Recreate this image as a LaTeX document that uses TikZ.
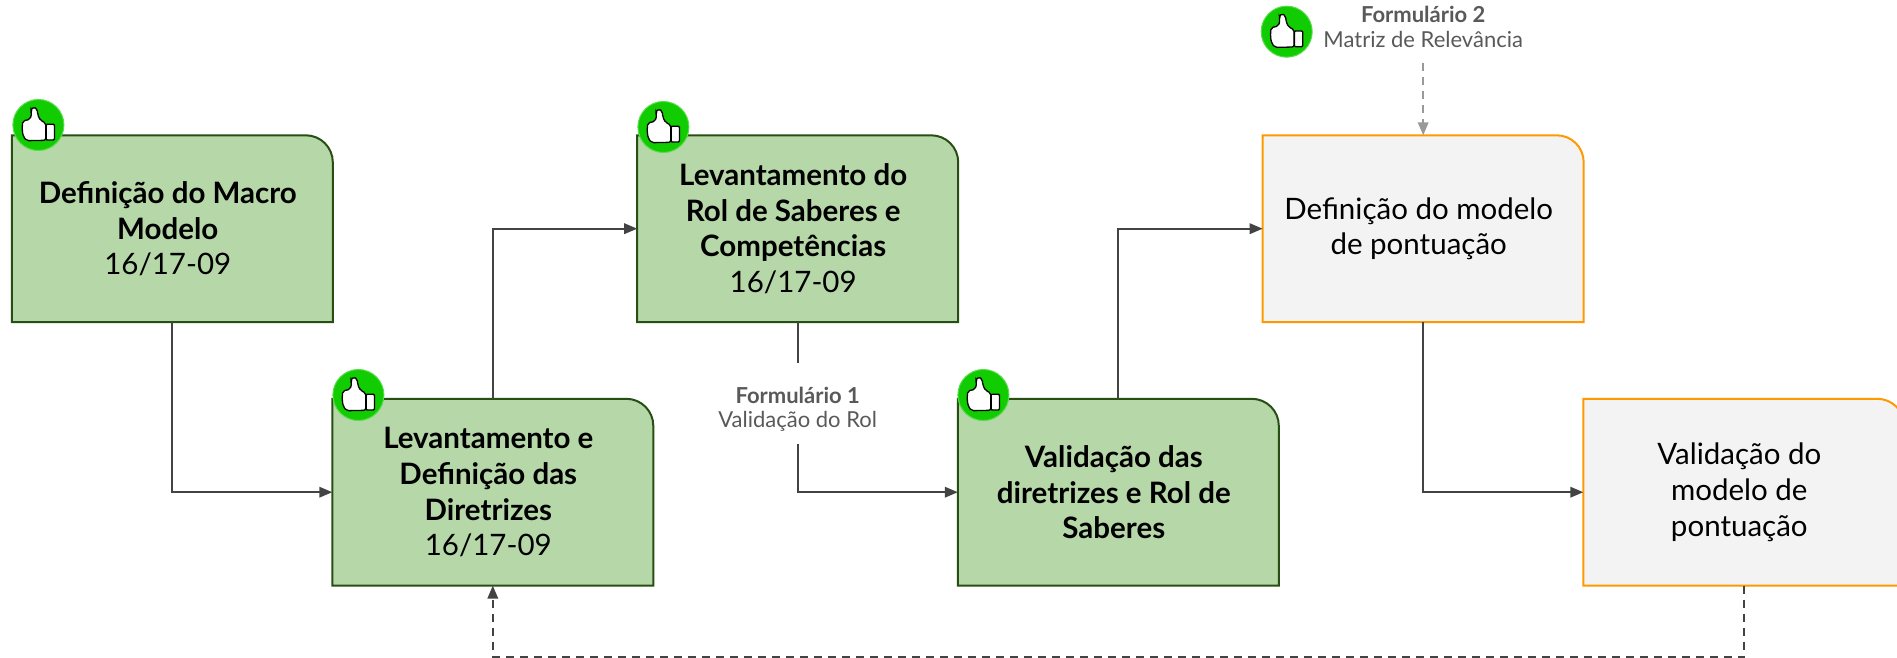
\documentclass[tikz,border=0pt]{standalone}
\usepackage{fontspec}
\setmainfont{Lato}
\usetikzlibrary{arrows.meta,backgrounds}
\definecolor{gfill}{HTML}{B6D7A8}
\definecolor{gline}{HTML}{274E13}
\definecolor{ofill}{HTML}{F3F3F3}
\definecolor{oline}{HTML}{FF9900}
\definecolor{conn}{HTML}{434343}
\definecolor{lab}{HTML}{595959}
\definecolor{lightconn}{HTML}{999999}
\definecolor{okgreen}{HTML}{11CC00}
\tikzset{
  x=1pt,y=-1pt,
  cardnode/.style={minimum width=320.6pt,minimum height=186.4pt,inner sep=0pt,
    font=\fontsize{29.5}{35.8}\selectfont},
  greencard/.style={draw=gline,fill=gfill,line width=2pt,line join=miter},
  graycard/.style={draw=oline,fill=ofill,line width=2pt,line join=miter},
  link/.style={draw=conn,line width=1.9pt,-{Triangle[length=13pt,width=10.5pt]}},
  plainlink/.style={draw=conn,line width=1.9pt},
  dashlink/.style={draw=conn,line width=1.9pt,dash pattern=on 8pt off 6pt,-{Triangle[length=13pt,width=10.5pt]}},
  graylink/.style={draw=lightconn,line width=1.9pt,dash pattern=on 8pt off 6pt,-{Triangle[length=13pt,width=10.5pt]}},
  notelabel/.style={text=lab,align=center,inner sep=0pt,font=\fontsize{22}{24.5}\selectfont},
  badge/.style={circle,fill=okgreen,draw=okgreen!70!white,line width=1pt,minimum size=51pt,inner sep=0pt},
  thumbshape/.style={draw=black,fill=white,line width=1.3pt,rounded corners=2pt}
}
\newcommand{\cardtext}[1]{\begin{minipage}{300pt}\centering #1\end{minipage}\kern9pt\null}
\newcommand{\cardoutline}[2]{%
  \begin{scope}[on background layer]
    \path[#2] (#1.south west) -- (#1.north west)
      [rounded corners=27pt] -- (#1.north east) [sharp corners] -- (#1.south east) -- cycle;
  \end{scope}}
\newcommand{\thumbat}[1]{%
  \begin{scope}[shift={(#1)}]
    \path[thumbshape] (-5,-18.3) -- (-1,-15.7) -- (-0.7,-10) -- (2.3,-4.3) -- (7.3,-2.3) -- (7.3,15.3) -- (-11.7,15.7) -- (-15,11.7)
      -- (-16.3,5) -- (-15.7,-4) -- (-8.3,-5.7) -- (-6.7,-11.7) -- (-7.7,-15) -- cycle;
    \path[draw=black,fill=white,line width=1.3pt,rounded corners=1pt] (7.7,-0.7) rectangle (16,15);
  \end{scope}}
\begin{document}
\begin{tikzpicture}
\useasboundingbox (0,0) rectangle (1897,658);
\clip (0,0) rectangle (1897,658);
\node[cardnode] (A) at (172.3,228.7) {\cardtext{\textbf{Definição do Macro}\\\textbf{Modelo}\\16/17-09}};
\node[cardnode] (B) at (492.8,492.2) {\cardtext{\textbf{Levantamento e}\\\textbf{Definição das}\\\textbf{Diretrizes}\\16/17-09}};
\node[cardnode] (C) at (797.7,228.7) {\cardtext{\textbf{Levantamento do}\\\textbf{Rol de Saberes e}\\\textbf{Competências}\\16/17-09}};
\node[cardnode] (D) at (1118.3,492.2) {\cardtext{\textbf{Validação das}\\\textbf{diretrizes e Rol de}\\\textbf{Saberes}}};
\node[cardnode] (E) at (1423.2,228.7) {\cardtext{Definição do modelo\\de pontuação}};
\node[cardnode] (F) at (1743.8,492.2) {\cardtext{Validação do\\modelo de\\pontuação}};
\cardoutline{A}{greencard}
\cardoutline{B}{greencard}
\cardoutline{C}{greencard}
\cardoutline{D}{greencard}
\cardoutline{E}{graycard}
\cardoutline{F}{graycard}
\node[notelabel,minimum height=69pt] (L1) at (797.7,409.5) {\textbf{Formulário 1}\\Validação do Rol};
\node[notelabel,minimum height=48pt] (L2) at (1423.2,27) {\textbf{Formulário 2}\\Matriz de Relevância};
\coordinate (low) at (1118,657.3);
\draw[link] (A.south) |- (B.west);
\draw[link] (B.north) |- (C.west);
\draw[plainlink,shorten >=12.3pt] (C.south) -- (L1.north);
\draw[link] (L1.south) |- (D.west);
\draw[link] (D.north) |- (E.west);
\draw[link] (E.south) |- (F.west);
\draw[dashlink] (F.south) |- (low) -| (B.south);
\draw[graylink,shorten <=12pt] (L2.south) -- (E.north);
\node[badge] (T1) at (38.4,125) {};
\node[badge] (T2) at (358.4,395) {};
\node[badge] (T3) at (663.4,127) {};
\node[badge] (T4) at (983.4,395) {};
\node[badge] (T5) at (1286.7,31.7) {};
\thumbat{T1}\thumbat{T2}\thumbat{T3}\thumbat{T4}\thumbat{T5}
\end{tikzpicture}
\end{document}
